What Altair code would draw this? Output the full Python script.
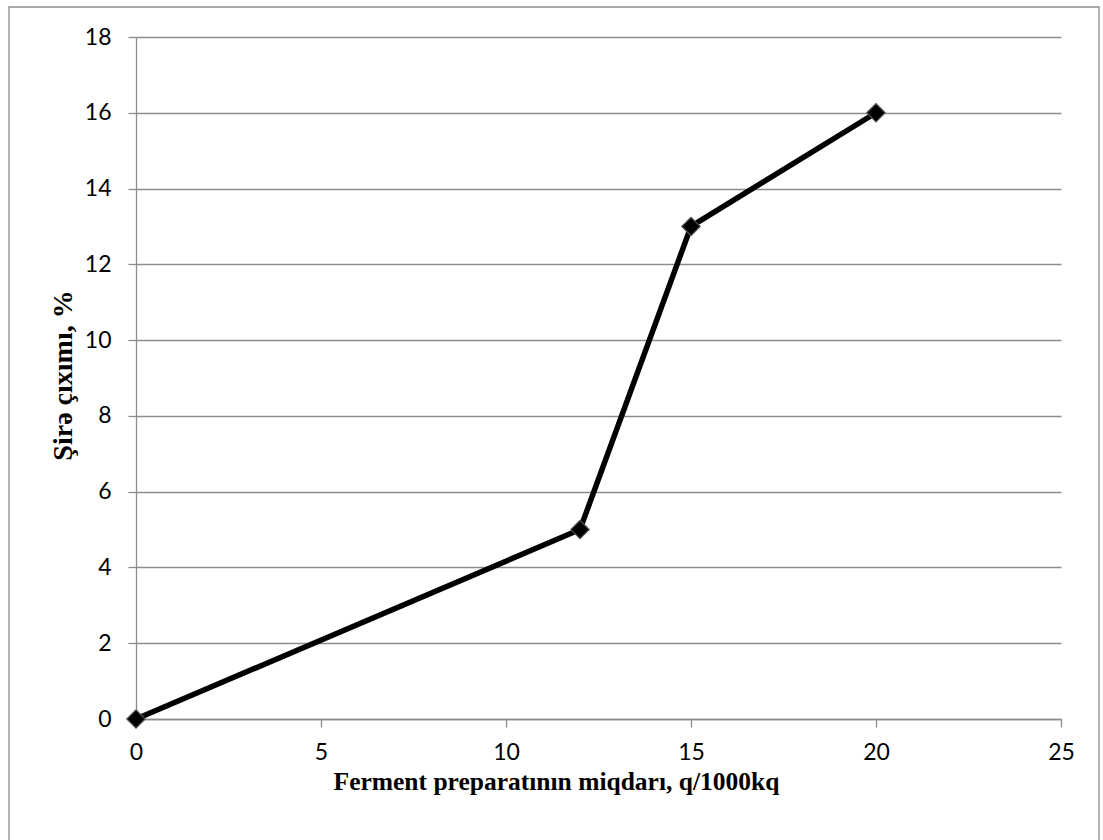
import altair as alt
import pandas as pd

# Enzyme preparation dose (g per 1000 kg) and juice yield (%)
dose = [0, 12, 15, 20]
juice_yield = [0, 5, 13, 16]

df = pd.DataFrame({"dose": dose, "yield": juice_yield})

x_enc = alt.X(
    "dose:Q",
    scale=alt.Scale(domain=[0, 25], nice=False),
    axis=alt.Axis(
        values=[0, 5, 10, 15, 20, 25],
        title="Ferment preparatının miqdarı, q/1000kq",
        grid=False,
        labelFlush=False,
        domainColor="#8c8c8c",
        domainWidth=1.3,
        tickColor="#8c8c8c",
        tickWidth=1.3,
        tickSize=8,
        labelFont="Lato",
        labelFontSize=23,
        labelColor="#000000",
        labelPadding=14,
        titleFont="Liberation Serif",
        titleFontSize=25.5,
        titleFontWeight="bold",
        titleColor="#000000",
        titleX=420,
        titleY=70,
        titleBaseline="alphabetic",
        titleAlign="center",
    ),
)

y_enc = alt.Y(
    "yield:Q",
    scale=alt.Scale(domain=[0, 18], nice=False),
    axis=alt.Axis(
        values=list(range(0, 19, 2)),
        title="Şirə çıxımı, %",
        grid=True,
        gridColor="#8c8c8c",
        gridWidth=1.3,
        domainColor="#8c8c8c",
        domainWidth=1.3,
        tickColor="#8c8c8c",
        tickWidth=1.3,
        tickSize=8,
        labelFont="Lato",
        labelFontSize=23,
        labelColor="#000000",
        labelPadding=17,
        titleFont="Liberation Serif",
        titleFontSize=28,
        titleFontWeight="bold",
        titleColor="#000000",
        titleAngle=-90,
        titleX=-73,
        titleY=338,
        titleBaseline="middle",
        titleAlign="center",
    ),
)

base = alt.Chart(df)

line = base.mark_line(color="#000000", strokeWidth=5.5).encode(x=x_enc, y=y_enc)

points = base.mark_point(
    shape="diamond", size=340, filled=True, fill="#000000",
    stroke="#555555", strokeWidth=1.2, opacity=1,
).encode(x="dose:Q", y="yield:Q")

# outer chart-area frame
frame = alt.Chart(pd.DataFrame({"k": [0]})).mark_rect(
    fill=None, stroke="#8c8c8c", strokeWidth=1.3, clip=False
).encode(
    x=alt.value(-127), x2=alt.value(963),
    y=alt.value(-30), y2=alt.value(815),
)

chart = (
    alt.layer(frame, line, points)
    .properties(
        width=925,
        height=682,
        autosize=alt.AutoSizeParams(type="none"),
        padding={"left": 136, "top": 37, "right": 42, "bottom": 121},
        background="#ffffff",
    )
    .configure_view(stroke=None)
)

chart.save("out.html", embed_options={"renderer": "svg", "actions": False})
